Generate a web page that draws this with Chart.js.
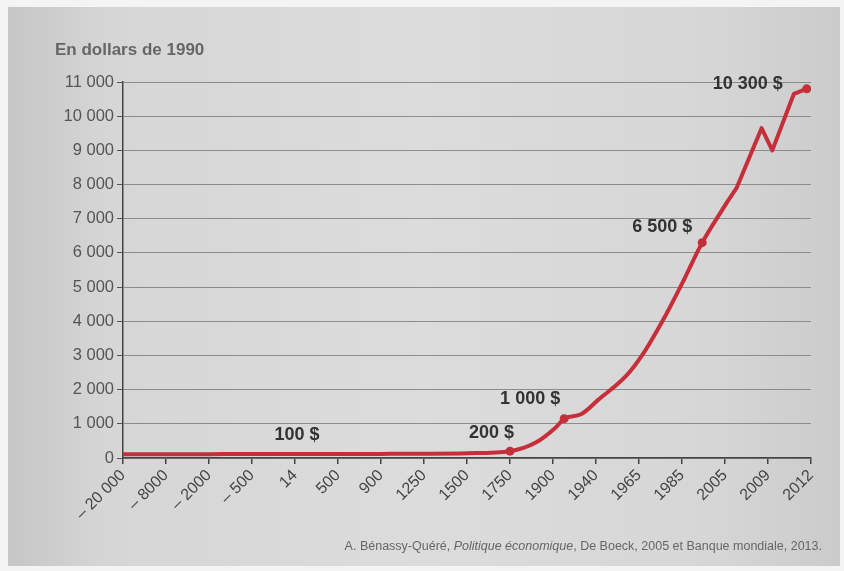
<!DOCTYPE html>
<html>
<head>
<meta charset="utf-8">
<script src="https://cdn.jsdelivr.net/npm/chart.js@4.4.1/dist/chart.umd.min.js"></script>
<style>
  html, body { margin: 0; padding: 0; background: #f4f4f4; }
  #page {
    position: absolute; left: 8px; top: 7px; width: 832px; height: 559px;
    background: linear-gradient(90deg, #c6c6c6 0%, #d6d6d6 12%, #dcdcdc 50%, #d6d6d6 85%, #cbcbcb 100%);
  }
  #wrap { position: absolute; left: 0; top: 0; width: 844px; height: 571px; }
</style>
</head>
<body>
<div id="page"></div>
<div id="wrap"><canvas id="gdp-chart" width="844" height="571"></canvas></div>
<script>

// axis categories (non linear time scale)
const xLabels = ['– 20 000', '– 8000', '– 2000', '– 500', '14', '500', '900', '1250', '1500',
                 '1750', '1900', '1940', '1965', '1985', '2005', '2009', '2012'];

// position of each point along the category axis, and GDP per head (1990 $)
const xPos = [0, 1, 2, 3, 4, 5, 6, 7, 8, 9, 9.6, 10.07, 10.26, 10.65, 11.05, 11.7, 12.07,
              12.63, 13.0, 13.47, 14.03, 14.27, 14.85, 15.1, 15.6, 15.9];
const gdp = [110, 110, 112, 115, 115, 118, 120, 125, 140, 200, 450, 900, 1150, 1280, 1700,
             2400, 3000, 4200, 5100, 6300, 7450, 7900, 9650, 9000, 10650, 10800];

const yTicks = [0, 1000, 2000, 3000, 4000, 5000, 6000, 7000, 8000, 9000, 10000, 11000];

// labels written on the curve, and the point each one belongs to
const notes = ['100 $', '200 $', '1 000 $', '6 500 $', '10 300 $'];
const notePoint = [4, 9, 12, 19, 25];
const markers = [9, 12, 19, 25];

// the long smooth rise, then the recent broken line
const splitAt = 20;

const FONT = "'Liberation Sans Narrow', 'Liberation Sans', Arial, sans-serif";
const RED = '#c62e3a';

function fmt(v) {
    return String(v).replace(/\B(?=(\d{3})+(?!\d))/g, ' ');
}

function pts(from, to) {
    const out = [];
    for (let i = from; i <= to; i++) out.push({ x: xPos[i], y: gdp[i], idx: i });
    return out;
}

const textPlugin = {
    id: 'textPlugin',
    afterDatasetsDraw(chart) {
        const ctx = chart.ctx;
        const xs = chart.scales.x, ys = chart.scales.y;
        // offsets of each note from its point
        const off = [[2, -10, 'center'], [4, -9, 'right'], [-4, -11, 'right'], [-10, -7, 'right'], [-24, 4, 'right']];
        ctx.save();
        ctx.fillStyle = '#333';
        ctx.font = 'bold 18px ' + FONT;
        ctx.textBaseline = 'bottom';
        notes.forEach((t, i) => {
            const k = notePoint[i];
            const px = xs.getPixelForValue(xPos[k]);
            const py = ys.getPixelForValue(gdp[k]);
            ctx.textAlign = off[i][2];
            ctx.fillText(t, px + off[i][0], py + off[i][1]);
        });

        // unit title
        ctx.fillStyle = '#666';
        ctx.font = 'bold 17px ' + FONT;
        ctx.textAlign = 'left';
        ctx.textBaseline = 'middle';
        ctx.fillText('En dollars de 1990', 55, 50);

        // source line
        ctx.fillStyle = '#666';
        const parts = [['A. Bénassy-Quéré, ', ''], ['Politique économique', 'italic '], [', De Boeck, 2005 et Banque mondiale, 2013.', '']];
        let w = 0;
        parts.forEach(p => { ctx.font = p[1] + '12.5px ' + FONT; w += ctx.measureText(p[0]).width; });
        let x = 822 - w;
        parts.forEach(p => {
            ctx.font = p[1] + '12.5px ' + FONT;
            ctx.fillText(p[0], x, 547);
            x += ctx.measureText(p[0]).width;
        });
        ctx.restore();
    }
};

document.addEventListener("DOMContentLoaded", function () {

    const canvas = document.getElementById("gdp-chart");

    const common = {
        borderColor: RED,
        backgroundColor: RED,
        borderWidth: 4,
        pointRadius: ctx => (ctx.raw && markers.includes(ctx.raw.idx)) ? 4.5 : 0,
        pointBorderWidth: 0,
        borderCapStyle: 'round',
        borderJoinStyle: 'round'
    };

    new Chart(canvas, {
        type: 'line',
        data: {
            datasets: [
                Object.assign({ label: 'PIB par habitant', data: pts(0, splitAt), cubicInterpolationMode: 'monotone' }, common),
                Object.assign({ label: 'PIB par habitant (récent)', data: pts(splitAt, gdp.length - 1), tension: 0 }, common)
            ]
        },
        options: {
            responsive: false,
            animation: false,
            layout: { padding: { left: 0, right: 33, top: 82, bottom: 0 } },
            plugins: {
                legend: { display: false },
                tooltip: { enabled: false }
            },
            scales: {
                x: {
                    type: 'linear',
                    min: 0,
                    max: 16,
                    afterFit: s => { s.height = 113; },
                    afterBuildTicks: s => { s.ticks = xLabels.map((l, i) => ({ value: i })); },
                    ticks: {
                        autoSkip: false,
                        maxRotation: 45,
                        minRotation: 45,
                        color: '#444',
                        padding: 2,
                        font: { family: FONT, size: 16 },
                        callback: v => xLabels[v]
                    },
                    grid: { drawOnChartArea: false, drawTicks: true, tickLength: 6, color: '#444', lineWidth: 1.5 },
                    border: { color: '#444', width: 1.5 }
                },
                y: {
                    min: 0,
                    max: 11000,
                    afterFit: s => { s.width = 123; },
                    afterBuildTicks: s => { s.ticks = yTicks.map(v => ({ value: v })); },
                    ticks: {
                        color: '#555',
                        padding: 3,
                        font: { family: FONT, size: 16.5 },
                        callback: v => fmt(v)
                    },
                    grid: { color: '#8c8c8c', lineWidth: 1, tickLength: 6, tickColor: '#555' },
                    border: { color: '#444', width: 1.5 }
                }
            }
        },
        plugins: [textPlugin]
    });

});
</script>
</body>
</html>
